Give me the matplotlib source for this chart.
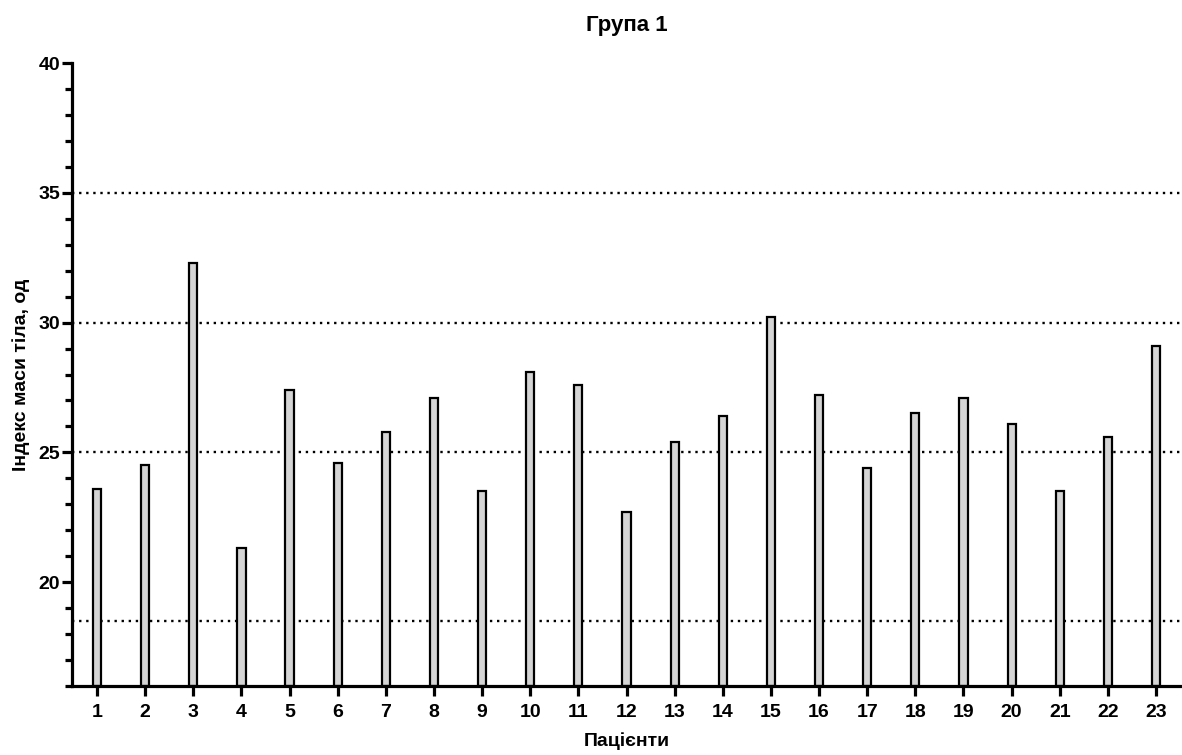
import numpy as np
import matplotlib
matplotlib.use('Agg')
import matplotlib.pyplot as plt
from matplotlib.ticker import MultipleLocator

# Patient numbers and body mass index values
patients = list(range(1, 24))
bmi = [23.6, 24.5, 32.3, 21.3, 27.4, 24.6, 25.8, 27.1, 23.5, 28.1, 27.6, 22.7,
       25.4, 26.4, 30.2, 27.2, 24.4, 26.5, 27.1, 26.1, 23.5, 25.6, 29.1]
ref_lines = [18.5, 25, 30, 35]

plt.rcParams['font.family'] = ['Liberation Sans', 'DejaVu Sans']
plt.rcParams['font.weight'] = 'bold'

fig = plt.figure(figsize=(11.82, 7.55), dpi=100)
ax = fig.add_axes([72 / 1182, 1 - 686 / 755, 1110 / 1182, 623 / 755])

for y in ref_lines:
    ax.axhline(y, color='black', linestyle=(0, (1, 2)), linewidth=1.7, zorder=1)

ax.bar(patients, [v - 16 for v in bmi], bottom=16, width=0.17, color='#d4d4d4',
       edgecolor='black', linewidth=1.6, zorder=2)

ax.set_xlim(0.48, 23.54)
ax.set_ylim(16, 40)
ax.set_xticks(patients)
ax.yaxis.set_major_locator(MultipleLocator(5))
ax.yaxis.set_minor_locator(MultipleLocator(1))
ax.set_yticks([20, 25, 30, 35, 40])

for s in ['top', 'right']:
    ax.spines[s].set_visible(False)
for s in ['left', 'bottom']:
    ax.spines[s].set_linewidth(2.3)

ax.tick_params(axis='both', which='major', width=2.3, length=7, labelsize=14)
ax.tick_params(axis='y', which='minor', width=2.3, length=5)
ax.tick_params(axis='x', which='major', pad=6)
ax.tick_params(axis='y', which='major', pad=1.5)
for lab in ax.get_xticklabels() + ax.get_yticklabels():
    lab.set_fontweight('bold')

ax.set_title('Група 1', fontsize=16, fontweight='bold', pad=23)
ax.set_xlabel('Пацієнти', fontsize=14, fontweight='bold', labelpad=8)
ax.set_ylabel('Індекс маси тіла, од', fontsize=14, fontweight='bold', labelpad=6)

fig.savefig('out.png', dpi=100)
